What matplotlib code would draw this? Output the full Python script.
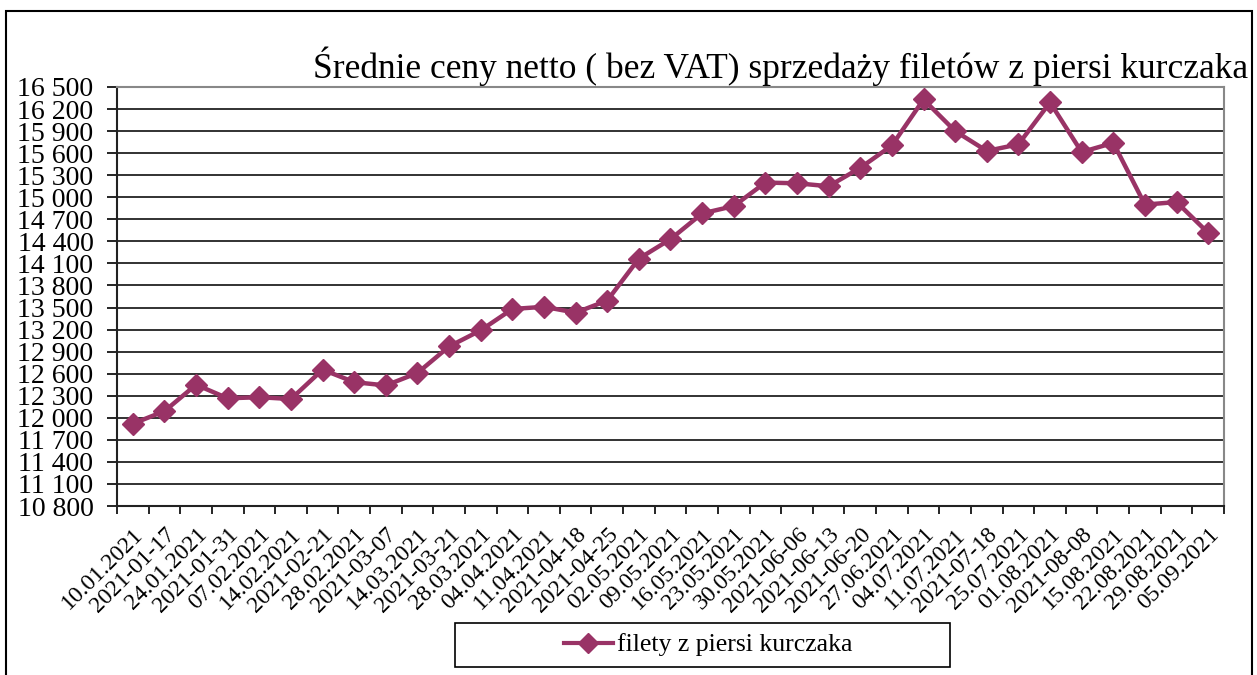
import numpy as np
import matplotlib.pyplot as plt
from matplotlib.patches import Rectangle
from matplotlib.lines import Line2D

plt.rcParams['font.family'] = ['Liberation Serif', 'DejaVu Serif']

# Daty notowan (tygodniowe)
daty = ['10.01.2021', '2021-01-17', '24.01.2021', '2021-01-31', '07.02.2021',
        '14.02.2021', '2021-02-21', '28.02.2021', '2021-03-07', '14.03.2021',
        '2021-03-21', '28.03.2021', '04.04.2021', '11.04.2021', '2021-04-18',
        '2021-04-25', '02.05.2021', '09.05.2021', '16.05.2021', '23.05.2021',
        '30.05.2021', '2021-06-06', '2021-06-13', '2021-06-20', '27.06.2021',
        '04.07.2021', '11.07.2021', '2021-07-18', '25.07.2021', '01.08.2021',
        '2021-08-08', '15.08.2021', '22.08.2021', '29.08.2021', '05.09.2021']

# Ceny netto filetow z piersi kurczaka
ceny = [11920, 12090, 12450, 12265, 12280,
        12255, 12655, 12485, 12440, 12610,
        12970, 13190, 13480, 13510, 13430,
        13595, 14165, 14430, 14780, 14880,
        15200, 15190, 15150, 15400, 15705,
        16330, 15900, 15630, 15720, 16290,
        15615, 15740, 14900, 14935, 14515]

y_ticks = list(range(10800, 16501, 300))

kolor = '#993366'

fig = plt.figure(figsize=(12.57, 6.75), dpi=100)
ax = fig.add_axes([117 / 1257, 1 - 506 / 675, (1224 - 117) / 1257, (506 - 87) / 675])

x = np.arange(len(daty))
ax.plot(x, ceny, color=kolor, linewidth=3.2, marker='D', markersize=11,
        markerfacecolor=kolor, markeredgecolor=kolor, zorder=3)

ax.set_xlim(-0.5, len(daty) - 0.5)
ax.set_ylim(10800, 16500)

# os Y
ax.set_yticks(y_ticks)
ax.set_yticklabels(['{:,}'.format(v).replace(',', ' ') for v in y_ticks], fontsize=20)
ax.tick_params(axis='y', direction='out', length=7, width=1.2, pad=10)
ax.grid(axis='y', color='#222222', linewidth=1.3)
ax.set_axisbelow(True)

# os X - kreski miedzy kategoriami, etykiety w srodku
ax.set_xticks(np.arange(-0.5, len(daty), 1))
ax.set_xticklabels([])
ax.tick_params(axis='x', which='major', direction='out', length=6, width=1.2)
ax.set_xticks(x, minor=True)
ax.set_xticklabels(daty, minor=True, rotation=45, ha='right', va='top',
                   rotation_mode='anchor', fontsize=17)
ax.tick_params(axis='x', which='minor', length=0, pad=13)

for s in ['top', 'right']:
    ax.spines[s].set_color('#888888')
    ax.spines[s].set_linewidth(1.5)
for s in ['left', 'bottom']:
    ax.spines[s].set_color('#222222')
    ax.spines[s].set_linewidth(1.5)

fig.text(1248 / 1257, 1 - 78 / 675,
         'Średnie ceny netto ( bez VAT) sprzedaży filetów z piersi kurczaka',
         ha='right', va='baseline', fontsize=25.5)

# ramka wykresu
fig.patches.append(Rectangle((6 / 1257, -0.05), (1252 - 6) / 1257, 1.05 - 11 / 675,
                             transform=fig.transFigure, fill=False,
                             edgecolor='black', linewidth=1.5))

# legenda
fig.patches.append(Rectangle((455 / 1257, 1 - 667 / 675), (950 - 455) / 1257, 44 / 675,
                             transform=fig.transFigure, fill=False,
                             edgecolor='black', linewidth=1.2))
uchwyt = Line2D([], [], color=kolor, linewidth=3, marker='D', markersize=10)
fig.legend([uchwyt], ['filety z piersi kurczaka'], loc='center',
           bbox_to_anchor=(708 / 1257, 1 - 645 / 675), frameon=False,
           fontsize=18.5, handlelength=1.9, handletextpad=0.15)

fig.savefig('out.png', dpi=100)
